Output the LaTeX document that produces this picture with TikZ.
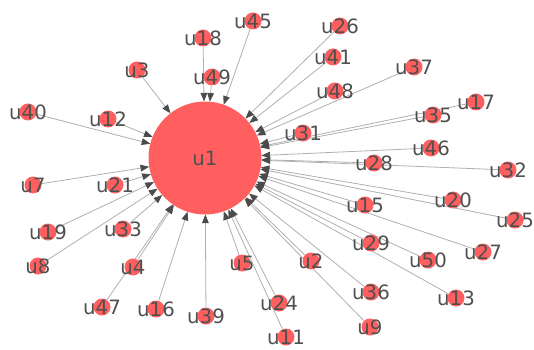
\documentclass[tikz,border=0pt]{standalone}
\usepackage{fontspec}
\setmainfont{DejaVu Sans}
\usetikzlibrary{arrows.meta,backgrounds}
\definecolor{nodered}{RGB}{255,95,95}
\definecolor{edgegray}{RGB}{175,175,175}
\definecolor{tipgray}{RGB}{75,75,75}
\definecolor{labelgray}{RGB}{80,80,80}
\tikzset{every picture/.style={line width=0.75pt}}

\begin{document}
\begin{tikzpicture}[x=0.75pt,y=0.75pt,yscale=-1,xscale=1,
  hub/.style={circle, fill=nodered, draw=nodered, inner sep=0pt, minimum size=84pt, text=labelgray, font=\fontsize{14.8}{16}\selectfont},
  usr/.style={circle, fill=nodered, inner sep=0pt, minimum size=12.75pt, label={[lbl]center:#1}},
  lbl/.style={inner sep=0pt, text=labelgray, font=\fontsize{14.8}{16}\selectfont},
  edge/.style={draw=edgegray, line width=0.6pt, -{Triangle[length=6.5pt,width=5pt,color=tipgray]}}]
\useasboundingbox (0,0) rectangle (534,349);

%Shape: Circle (centre)
\node [hub] (u1) at (205,158) {u1};

%Shape: Circle (top)
\node [usr=u45] (u45) at (253,21) {};
\node [usr=u18] (u18) at (203,38) {};
\node [usr=u49] (u49) at (212,77) {};
\node [usr=u3] (u3) at (137,70) {};
\node [usr=u26] (u26) at (340,26) {};
\node [usr=u41] (u41) at (333,57) {};
\node [usr=u37] (u37) at (414,67) {};
\node [usr=u48] (u48) at (335,91) {};
%Shape: Circle (left)
\node [usr=u40] (u40) at (28,112) {};
\node [usr=u12] (u12) at (108,119) {};
\node [usr=u7] (u7) at (33,185) {};
\node [usr=u21] (u21) at (115,185) {};
\node [usr=u19] (u19) at (48,232) {};
\node [usr=u33] (u33) at (123,229) {};
\node [usr=u8] (u8) at (38,266) {};
%Shape: Circle (right)
\node [usr=u17] (u17) at (476,102) {};
\node [usr=u35] (u35) at (433,115) {};
\node [usr=u31] (u31) at (303,133) {};
\node [usr=u46] (u46) at (431,148) {};
\node [usr=u28] (u28) at (374,163) {};
\node [usr=u32] (u32) at (508,170) {};
\node [usr=u20] (u20) at (453,200) {};
\node [usr=u15] (u15) at (365,205) {};
\node [usr=u25] (u25) at (515,220) {};
\node [usr=u29] (u29) at (371,243) {};
\node [usr=u27] (u27) at (483,252) {};
\node [usr=u50] (u50) at (428,260) {};
%Shape: Circle (bottom)
\node [usr=u4] (u4) at (133,267) {};
\node [usr=u5] (u5) at (242,263) {};
\node [usr=u47] (u47) at (102,307) {};
\node [usr=u16] (u16) at (156,309) {};
\node [usr=u39] (u39) at (206,316) {};
\node [usr=u2] (u2) at (311,261) {};
\node [usr=u36] (u36) at (371,292) {};
\node [usr=u13] (u13) at (456,298) {};
\node [usr=u24] (u24) at (279,303) {};
\node [usr=u9] (u9) at (370,327) {};
\node [usr=u11] (u11) at (286,337) {};

%Straight Lines (all into u1)
\begin{scope}[on background layer]
\draw [edge] (u45) -- (u1);
\draw [edge] (u18) -- (u1);
\draw [edge] (u49) -- (u1);
\draw [edge] (u3) -- (u1);
\draw [edge] (u26) -- (u1);
\draw [edge] (u41) -- (u1);
\draw [edge] (u37) -- (u1);
\draw [edge] (u48) -- (u1);
\draw [edge] (u40) -- (u1);
\draw [edge] (u12) -- (u1);
\draw [edge] (u7) -- (u1);
\draw [edge] (u21) -- (u1);
\draw [edge] (u19) -- (u1);
\draw [edge] (u33) -- (u1);
\draw [edge] (u8) -- (u1);
\draw [edge] (u17) -- (u1);
\draw [edge] (u35) -- (u1);
\draw [edge] (u31) -- (u1);
\draw [edge] (u46) -- (u1);
\draw [edge] (u28) -- (u1);
\draw [edge] (u32) -- (u1);
\draw [edge] (u20) -- (u1);
\draw [edge] (u15) -- (u1);
\draw [edge] (u25) -- (u1);
\draw [edge] (u29) -- (u1);
\draw [edge] (u27) -- (u1);
\draw [edge] (u50) -- (u1);
\draw [edge] (u4) -- (u1);
\draw [edge] (u5) -- (u1);
\draw [edge] (u47) -- (u1);
\draw [edge] (u16) -- (u1);
\draw [edge] (u39) -- (u1);
\draw [edge] (u2) -- (u1);
\draw [edge] (u36) -- (u1);
\draw [edge] (u13) -- (u1);
\draw [edge] (u24) -- (u1);
\draw [edge] (u9) -- (u1);
\draw [edge] (u11) -- (u1);
\end{scope}

\end{tikzpicture}
\end{document}
